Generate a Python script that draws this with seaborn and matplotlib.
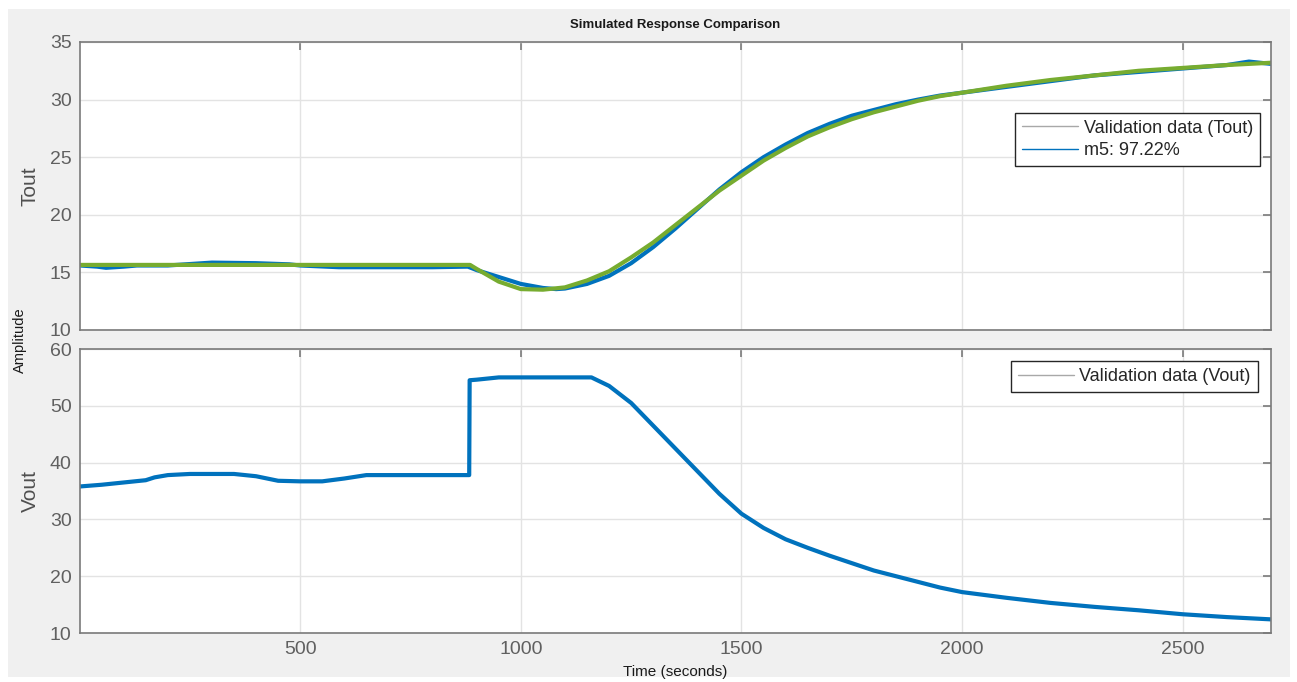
import matplotlib
matplotlib.use("Agg")
import matplotlib.pyplot as plt
from matplotlib.lines import Line2D
from matplotlib.patches import Rectangle
import seaborn as sns
import pandas as pd

# ---------------- data ----------------
tout_meas_t = [1, 40, 60, 100, 130, 200, 280, 300, 400, 475, 500, 588, 650, 700, 800, 880,
               900, 950, 1000, 1050, 1080, 1100, 1150, 1200, 1250, 1300, 1350, 1400, 1450,
               1500, 1550, 1600, 1650, 1700, 1750, 1800, 1850, 1900, 1950, 2000, 2100, 2200,
               2300, 2400, 2500, 2600, 2650, 2700]
tout_meas_v = [15.6, 15.5, 15.4, 15.5, 15.6, 15.6, 15.8, 15.85, 15.8, 15.7, 15.6, 15.45, 15.45,
               15.45, 15.45, 15.5, 15.2, 14.6, 14.0, 13.65, 13.55, 13.6, 14.0, 14.7, 15.8, 17.2,
               18.8, 20.5, 22.2, 23.7, 25.0, 26.1, 27.1, 27.9, 28.6, 29.1, 29.6, 30.0, 30.35,
               30.6, 31.1, 31.6, 32.1, 32.4, 32.7, 33.0, 33.3, 33.1]

tout_model_t = [1, 885, 900, 950, 1000, 1050, 1100, 1150, 1200, 1250, 1300, 1350, 1400, 1450,
                1500, 1550, 1600, 1650, 1700, 1750, 1800, 1850, 1900, 1950, 2000, 2100, 2200,
                2300, 2400, 2500, 2600, 2700]
tout_model_v = [15.65, 15.65, 15.3, 14.2, 13.55, 13.5, 13.7, 14.3, 15.1, 16.3, 17.6, 19.1, 20.6,
                22.1, 23.4, 24.7, 25.8, 26.8, 27.6, 28.3, 28.9, 29.4, 29.9, 30.3, 30.6, 31.2,
                31.7, 32.1, 32.5, 32.75, 33.0, 33.2]

vout_t = [1, 50, 100, 150, 170, 200, 250, 300, 350, 400, 450, 500, 550, 600, 650, 700, 750,
          800, 850, 883, 884, 900, 950, 1000, 1050, 1100, 1160, 1200, 1250, 1300, 1350, 1400,
          1450, 1500, 1550, 1600, 1650, 1700, 1750, 1800, 1850, 1900, 1950, 2000, 2100, 2200,
          2300, 2400, 2500, 2600, 2700]
vout_v = [35.8, 36.1, 36.5, 36.9, 37.4, 37.8, 38.0, 38.0, 38.0, 37.6, 36.8, 36.7, 36.7, 37.2,
          37.8, 37.8, 37.8, 37.8, 37.8, 37.8, 54.5, 54.6, 55.0, 55.0, 55.0, 55.0, 55.0, 53.5,
          50.5, 46.5, 42.5, 38.5, 34.5, 31.0, 28.5, 26.5, 25.0, 23.6, 22.3, 21.0, 20.0, 19.0,
          18.0, 17.2, 16.2, 15.3, 14.6, 14.0, 13.3, 12.8, 12.4]

x_ticks = [500, 1000, 1500, 2000, 2500]
tout_ticks = [10, 15, 20, 25, 30, 35]
vout_ticks = [10, 20, 30, 40, 50, 60]
legend_top = ["Validation data (Tout)", "m5: 97.22%"]
legend_bottom = ["Validation data (Vout)"]

# ---------------- style ----------------
sns.set_theme(style="white")
plt.rcParams['font.family'] = ['Liberation Sans', 'DejaVu Sans']

BLUE = "#0072BD"
GREEN = "#77AC30"
GRAY_LEG = "#a8a8a8"
SPINE = "#7a7a7a"
TICKC = "#606060"
BG = "#f0f0f0"

W, H = 1297, 682
fig = plt.figure(figsize=(W / 100, H / 100), dpi=100, facecolor="white")
fig.patches.append(Rectangle((8 / W, 5 / H), (1290 - 8) / W, (673 - 5) / H,
                             transform=fig.transFigure, facecolor=BG, edgecolor="none",
                             zorder=-10))

ax1 = fig.add_axes([80 / W, 1 - 330 / H, 1191 / W, 288 / H])
ax2 = fig.add_axes([80 / W, 1 - 633 / H, 1191 / W, 284 / H])

df_meas = pd.DataFrame({"t": tout_meas_t, "v": tout_meas_v})
df_model = pd.DataFrame({"t": tout_model_t, "v": tout_model_v})
df_vout = pd.DataFrame({"t": vout_t, "v": vout_v})

sns.lineplot(data=df_meas, x="t", y="v", ax=ax1, color=BLUE, linewidth=3.0, estimator=None,
             sort=False, legend=False)
sns.lineplot(data=df_model, x="t", y="v", ax=ax1, color=GREEN, linewidth=3.0, estimator=None,
             sort=False, legend=False)
sns.lineplot(data=df_vout, x="t", y="v", ax=ax2, color=BLUE, linewidth=3.0, estimator=None,
             sort=False, legend=False)

for ax, yt, lim in [(ax1, tout_ticks, (10, 35)), (ax2, vout_ticks, (10, 60))]:
    ax.set_facecolor("white")
    ax.set_xlim(1, 2700)
    ax.set_ylim(*lim)
    ax.set_xticks(x_ticks)
    ax.set_yticks(yt)
    ax.grid(True, color="#e3e3e3", linewidth=1.0)
    ax.set_axisbelow(True)
    for s in ax.spines.values():
        s.set_color(SPINE)
        s.set_linewidth(1.2)
    ax.tick_params(direction="in", length=6, width=1.2, color=SPINE, labelcolor=TICKC,
                   labelsize=14, top=True, right=True, pad=6)
    ax.set_xlabel("")
    ax.set_ylabel("")

ax1.tick_params(labelbottom=False)

ax1.set_ylabel("Tout", fontsize=15, color="#505050")
ax2.set_ylabel("Vout", fontsize=15, color="#505050")
ax1.yaxis.set_label_coords(-0.034, 0.5)
ax2.yaxis.set_label_coords(-0.034, 0.5)

h_top = [Line2D([], [], color=GRAY_LEG, lw=1.0), Line2D([], [], color=BLUE, lw=1.0)]
leg1 = ax1.legend(h_top, legend_top, loc="upper right", bbox_to_anchor=(0.991, 0.755),
                  fontsize=13, frameon=True, fancybox=False, framealpha=1, edgecolor="#262626",
                  handlelength=3.1, borderpad=0.4, labelspacing=0.3, handletextpad=0.3,
                  borderaxespad=0)
leg1.get_frame().set_linewidth(1.0)
h_bot = [Line2D([], [], color=GRAY_LEG, lw=1.0)]
leg2 = ax2.legend(h_bot, legend_bottom, loc="upper right", bbox_to_anchor=(0.989, 0.958),
                  fontsize=13, frameon=True, fancybox=False, framealpha=1, edgecolor="#262626",
                  handlelength=3.1, borderpad=0.4, handletextpad=0.3, borderaxespad=0)
leg2.get_frame().set_linewidth(1.0)

fig.text(675 / W, 1 - 25 / H, "Simulated Response Comparison", ha="center", va="center",
         fontsize=9.5, fontweight="bold", color="#1a1a1a")
fig.text(20 / W, 1 - 340 / H, "Amplitude", ha="center", va="center", rotation=90,
         fontsize=10.5, color="#1a1a1a")
fig.text(675 / W, 1 - 672 / H, "Time (seconds)", ha="center", va="center",
         fontsize=11, color="#1a1a1a")

fig.savefig("out.png", dpi=100, facecolor=fig.get_facecolor())
